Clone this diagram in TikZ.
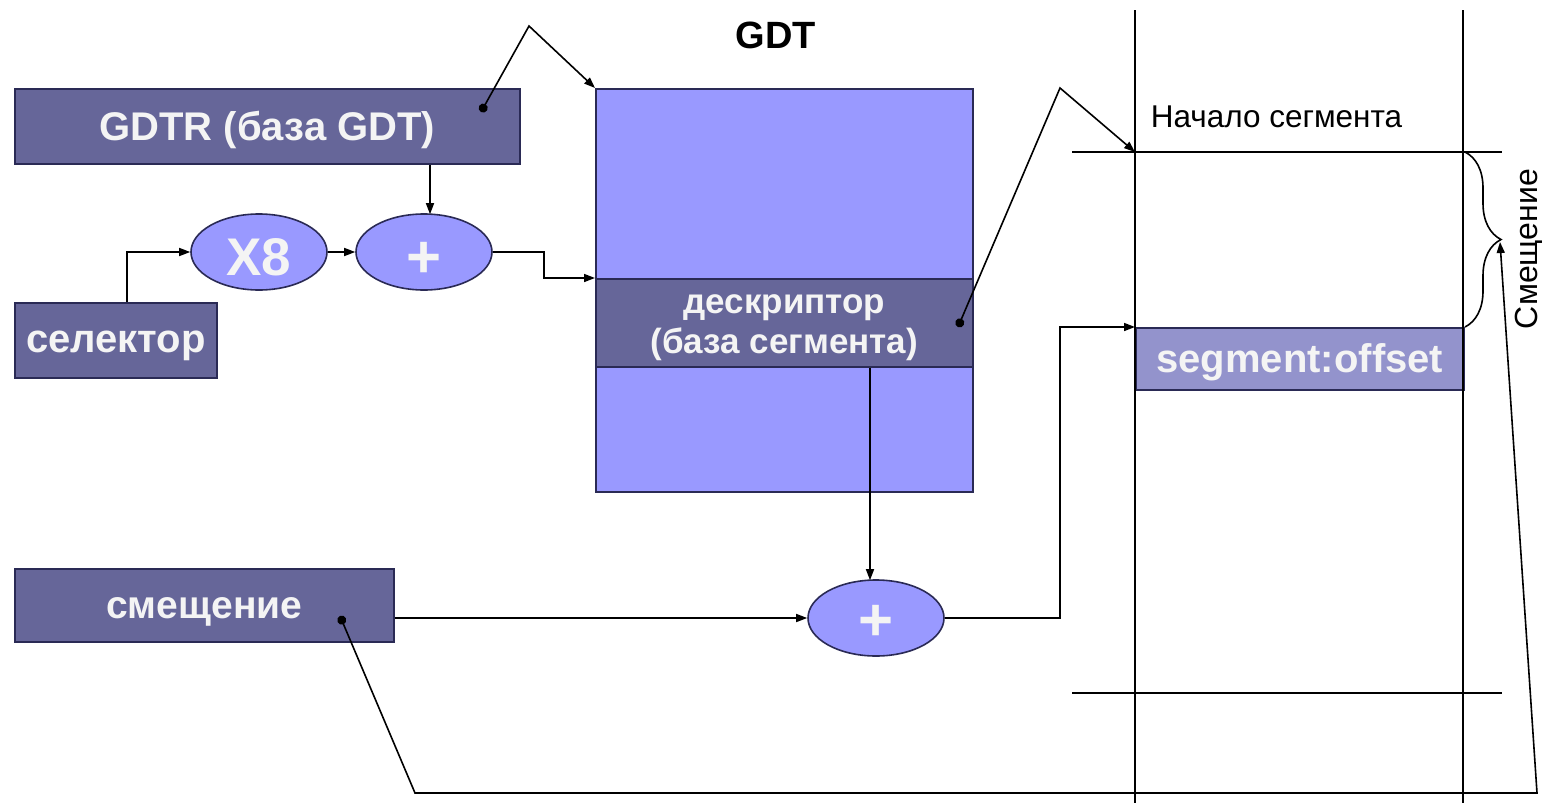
\documentclass[tikz,border=0pt]{standalone}
\usepackage{fontspec}
\setmainfont{Liberation Sans}
\usetikzlibrary{arrows.meta,shapes.geometric,decorations.pathreplacing}
\definecolor{darkfill}{HTML}{666699}
\definecolor{lightfill}{HTML}{9999FF}
\definecolor{bandfill}{HTML}{9393CC}
\definecolor{edge}{HTML}{2A2A55}
\definecolor{label}{HTML}{F4F4F4}
\newcommand\fsz[1]{\fontsize{#1pt}{1.15\dimexpr#1pt\relax}\selectfont}
% text whose baseline sits #1 below the centre of its node
\newcommand\low[2]{\raisebox{-#1pt}[0pt][0pt]{\makebox[0pt]{#2}}}
\begin{document}
\begin{tikzpicture}[x=1pt,y=-1pt,
  line width=1.6pt,
  arr/.style={-{Triangle[length=11pt,width=8pt]}},
  dotarr/.style={{Circle[length=9pt]}-{Triangle[length=11pt,width=8pt]}},
  regbox/.style={draw=edge, fill=darkfill, text=label, inner sep=0pt, anchor=north west, font=\bfseries},
  tablebox/.style={draw=edge, fill=lightfill, inner sep=0pt, anchor=north west},
  oval/.style={ellipse, draw=edge, fill=lightfill, text=label, inner sep=0pt, minimum width=136pt, minimum height=76pt},
  memline/.style={draw=black, line width=1.6pt}]
\useasboundingbox[fill=white] (0,0) rectangle (1542,803);

% registers and descriptor table
\node[regbox, minimum width=505pt, minimum height=75pt] (gdtr) at (14,88) {\fsz{40}\low{14.5}{GDTR (база GDT)}};
\node[regbox, minimum width=202pt, minimum height=75pt] (sel) at (14,302) {\fsz{40}\low{12.5}{селектор}};
\node[regbox, minimum width=379pt, minimum height=73pt] (smesh) at (14,568) {\fsz{39}\low{13.5}{смещение}};
\node[tablebox, minimum width=377pt, minimum height=403pt] (gdt) at (595,88) {};
\node[regbox, minimum width=377pt, minimum height=88pt] (desc) at (595,278) {\fsz{35}\low{-9}{дескриптор}\low{31}{(база сегмента)}};
\node[font=\bfseries\fsz{38}] (gdtlabel) at (776,35) {GDT};

% arithmetic units
\node[oval, font=\bfseries\fsz{53}] (x8) at (259,252) {\low{23}{X8}};
\node[oval, font=\bfseries\fsz{60}] (plusa) at (424,252) {\low{25}{+}};
\node[oval, font=\bfseries\fsz{60}] (plusb) at (876,618) {\low{22}{+}};

% linear memory
\coordinate (la) at (1135,10);
\coordinate (lb) at (1135,803);
\coordinate (ra) at (1463,10);
\coordinate (rb) at (1463,803);
\node[draw=edge, fill=bandfill, inner sep=0pt, anchor=north west, minimum width=328pt, minimum height=62pt, text=label, font=\bfseries\fsz{40}] (segoff) at (1135,327) {\low{14}{segment:offset}};
\draw[memline] (la) -- (lb);
\draw[memline] (ra) -- (rb);
\coordinate (segstart) at (1135,152);
\draw[memline] (1072,152) -- (1502,152);
\draw[memline] (1072,693) -- (1502,693);
\node[anchor=base west, inner sep=0pt, font=\fsz{31.5}] (startlbl) at (1150,127) {Начало сегмента};
\coordinate (bracetop) at (1465,152);
\coordinate (bracebot) at (1465,327);
\draw[decorate, decoration={brace, amplitude=36pt}] (bracetop) -- (bracebot);
\coordinate (bracetip) at (1500,242);
\node[rotate=90, font=\fsz{32}] (offlbl) at (1529,249) {Смещение};

% connectors
\coordinate (gdtrdot) at (481,112);
\draw[dotarr] (gdtrdot) -- (529,26) -- (gdt.north west);
\draw[arr] ([xshift=6pt]gdtr.south -| plusa.north) -- ([xshift=6pt,yshift=-1pt]plusa.north);
\draw[arr] ([xshift=11pt]sel.north) |- (x8.west);
\draw[arr] (x8.east) -- (plusa.west);
\draw[arr] (plusa.east) -- ++(51,0) |- (desc.north west);
\coordinate (descdot) at (958,327);
\draw[dotarr] (descdot) -- (1060,88) -- (segstart);
\draw[arr] ([xshift=-6pt]desc.south -| plusb.north) -- ([xshift=-6pt,yshift=-1pt]plusb.north);
\draw[arr] (smesh.east |- plusb.west) -- (plusb.west);
\draw[arr] (plusb.east) -- (1060,618) |- (segoff.north west);
\coordinate (smeshdot) at (340,616);
\draw[dotarr] (smeshdot) -- (415,793) -- (1537,793) -- (bracetip);
\end{tikzpicture}
\end{document}
